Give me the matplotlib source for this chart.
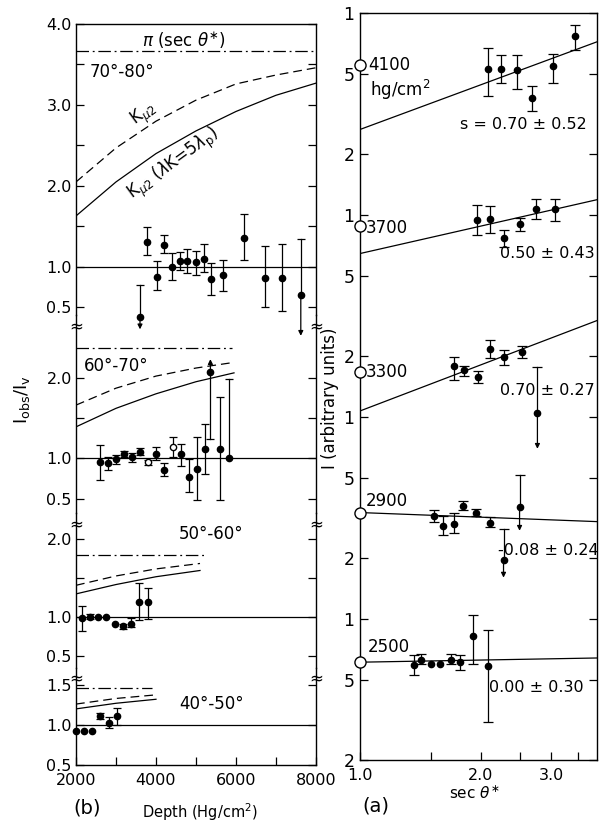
import numpy as np
import matplotlib
matplotlib.use('Agg')
import matplotlib.pyplot as plt

# ---- panel (b): ratio vs depth, four zenith bands ----
depth_ticks = [2000, 3000, 4000, 5000, 6000, 7000, 8000]
depth_tick_labels = ['2000', '', '4000', '', '6000', '', '8000']

# 70-80 deg
d_7080 = [3780, 4015, 4200, 4405, 4595, 4785, 4995, 5190, 5385, 5675, 6210, 6735, 7150]
r_7080 = [1.31, 0.875, 1.27, 1.00, 1.07, 1.07, 1.06, 1.10, 0.85, 0.90, 1.36, 0.87, 0.87]
hi_7080 = [1.49, 1.07, 1.40, 1.17, 1.19, 1.22, 1.20, 1.28, 1.05, 1.08, 1.66, 1.26, 1.28]
lo_7080 = [1.15, 0.72, 1.17, 0.84, 0.96, 0.93, 0.90, 0.94, 0.66, 0.70, 1.09, 0.51, 0.46]
lim_d_7080 = [3600, 7620]
lim_r_7080 = [0.38, 0.66]
lim_cap_7080 = [0.78, 1.35]
lim_end_7080 = [0.23, 0.15]
curve_d_7080 = [2000, 3000, 4000, 5000, 6000, 7000, 8000]
kmu2_7080 = [2.05, 2.47, 2.80, 3.06, 3.26, 3.37, 3.46]
kmu2l_7080 = [1.63, 2.05, 2.40, 2.68, 2.92, 3.12, 3.27]
pi_d_7080 = [2000, 8000]
pi_7080 = [3.67, 3.67]

# 60-70 deg
d_6070 = [2590, 2800, 2990, 3200, 3410, 3610, 3790, 3990, 4200, 4420, 4620, 4830, 5020, 5230, 5610]
r_6070 = [0.96, 0.94, 0.99, 1.05, 1.01, 1.08, 0.95, 1.05, 0.86, 1.14, 1.05, 0.77, 0.87, 1.12, 1.12]
hi_6070 = [1.17, 1.01, 1.04, 1.09, 1.06, 1.13, 0.98, 1.14, 0.94, 1.27, 1.18, 0.99, 1.27, 1.43, 1.76]
lo_6070 = [0.73, 0.85, 0.93, 1.01, 0.95, 1.04, 0.92, 0.98, 0.78, 1.01, 0.91, 0.58, 0.48, 0.81, 0.48]
open_6070 = [3790, 4420]
lim_d_6070 = [5360, 5815]
lim_r_6070 = [2.07, 1.00]
lim_cap_6070 = [1.24, 1.99]
lim_end_6070 = [2.23, None]
curve_d_6070 = [2000, 3000, 4000, 5000, 5950]
kmu2_6070 = [1.66, 1.87, 2.02, 2.12, 2.19]
kmu2l_6070 = [1.39, 1.62, 1.80, 1.95, 2.06]
pi_d_6070 = [2000, 5900]
pi_6070 = [2.365, 2.365]

# 50-60 deg
d_5060 = [2160, 2350, 2545, 2745, 2980, 3170, 3380, 3585, 3790]
r_5060 = [0.99, 1.01, 1.00, 1.00, 0.91, 0.89, 0.92, 1.20, 1.19]
hi_5060 = [1.15, 1.04, 1.00, 1.00, 0.91, 0.92, 0.99, 1.44, 1.38]
lo_5060 = [0.82, 0.98, 1.00, 1.00, 0.91, 0.85, 0.87, 0.96, 0.98]
curve_d_5060 = [2000, 3000, 4000, 5100]
kmu2_5060 = [1.41, 1.53, 1.62, 1.69]
kmu2l_5060 = [1.30, 1.42, 1.52, 1.60]
pi_d_5060 = [2000, 5200]
pi_5060 = [1.80, 1.80]

# 40-50 deg
d_4050 = [2000, 2200, 2410, 2600, 2815, 3020]
r_4050 = [0.93, 0.92, 0.93, 1.11, 1.03, 1.11]
hi_4050 = [0.93, 0.92, 0.93, 1.15, 1.10, 1.21]
lo_4050 = [0.93, 0.92, 0.93, 1.07, 0.96, 1.00]
curve_d_4050 = [2000, 3000, 4000]
kmu2_4050 = [1.26, 1.33, 1.375]
kmu2l_4050 = [1.20, 1.27, 1.32]
pi_d_4050 = [2000, 3900]
pi_4050 = [1.46, 1.46]

yt_7080 = [0.5, 1.0, 1.5, 2.0, 2.5, 3.0, 3.5, 4.0]
ytl_7080 = ['0.5', '1.0', '', '2.0', '', '3.0', '', '4.0']
yt_6070 = [0.5, 1.0, 1.5, 2.0]
ytl_6070 = ['0.5', '1.0', '', '2.0']
yt_5060 = [0.5, 1.0, 1.5, 2.0]
ytl_5060 = ['0.5', '1.0', '', '2.0']
yt_4050 = [0.5, 1.0, 1.5]
ytl_4050 = ['0.5', '1.0', '1.5']

# ---- panel (a): intensity vs sec theta, five depths ----
sec_ticks = [1.0, 1.5, 2.0, 2.5, 3.0, 3.5]
sec_tick_labels = ['1.0', '', '2.0', '', '3.0', '']
int_ticks = [10, 5, 2, 1, 0.5, 0.2, 0.1, 0.05, 0.02, 0.01, 0.005, 0.002]
int_tick_labels = ['1', '5', '2', '1', '5', '2', '1', '5', '2', '1', '5', '2']
fit_sec = [1.0, 3.9]

sec_4100 = [2.08, 2.25, 2.47, 2.69, 3.03, 3.43]
i_4100 = [5.3, 5.3, 5.25, 3.79, 5.47, 7.69]
hi_4100 = [6.7, 6.2, 6.2, 4.35, 6.3, 8.7]
lo_4100 = [3.88, 4.52, 4.22, 3.27, 4.52, 6.55]
fit_4100 = [2.65, 7.2]
vert_4100 = 5.5

sec_3700 = [1.955, 2.11, 2.28, 2.50, 2.75, 3.07]
i_3700 = [0.944, 0.95, 0.77, 0.905, 1.07, 1.07]
hi_3700 = [1.12, 1.11, 0.84, 0.97, 1.20, 1.20]
lo_3700 = [0.80, 0.81, 0.695, 0.83, 0.95, 0.93]
fit_3700 = [0.644, 1.19]
vert_3700 = 0.88

sec_3300 = [1.72, 1.82, 1.97, 2.11, 2.29, 2.53]
i_3300 = [0.179, 0.171, 0.158, 0.217, 0.197, 0.209]
hi_3300 = [0.197, 0.179, 0.169, 0.239, 0.215, 0.225]
lo_3300 = [0.153, 0.159, 0.147, 0.195, 0.181, 0.195]
fit_3300 = [0.107, 0.30]
vert_3300 = 0.166
lim_sec_3300 = [2.77]
lim_i_3300 = [0.104]
lim_cap_3300 = [0.177]
lim_end_3300 = [0.0695]

sec_2900 = [1.53, 1.61, 1.72, 1.81, 1.95, 2.11]
i_2900 = [0.0324, 0.0289, 0.0294, 0.0363, 0.0336, 0.0298]
hi_2900 = [0.0344, 0.0324, 0.0333, 0.0385, 0.0350, 0.0318]
lo_2900 = [0.0303, 0.0260, 0.0266, 0.0346, 0.0324, 0.0286]
fit_2900 = [0.0336, 0.0303]
vert_2900 = 0.0336
lim_sec_2900 = [2.50, 2.28]
lim_i_2900 = [0.036, 0.0196]
lim_cap_2900 = [0.0513, 0.0278]
lim_end_2900 = [0.0273, 0.016]

sec_2500 = [1.36, 1.42, 1.50, 1.585, 1.69, 1.78, 1.91, 2.08]
i_2500 = [0.00593, 0.00628, 0.0060, 0.0060, 0.00628, 0.0061, 0.0082, 0.00586]
hi_2500 = [0.00665, 0.0067, 0.0060, 0.0060, 0.00673, 0.0066, 0.0105, 0.0088]
lo_2500 = [0.00528, 0.0060, 0.0060, 0.0060, 0.0060, 0.00556, 0.0060, 0.0031]
fit_2500 = [0.0061, 0.0064]
vert_2500 = 0.0061

plt.rcParams['font.family'] = ['DejaVu Sans']
plt.rcParams['mathtext.fontset'] = 'dejavusans'

W, H = 600, 825
LW = 0.9


def box(x0, y0, x1, y1):
    # pixel box (top-left origin) -> figure fraction
    return [x0 / W, 1 - y1 / H, (x1 - x0) / W, (y1 - y0) / H]


def points(ax, x, y, hi, lo, cap=3, ms=4.5, open_x=()):
    x, y, hi, lo = map(np.asarray, (x, y, hi, lo))
    has_err = (hi - lo) > 0
    ax.errorbar(x[has_err], y[has_err], yerr=[y[has_err] - lo[has_err], hi[has_err] - y[has_err]],
                fmt='none', ecolor='k', elinewidth=LW, capsize=cap, capthick=LW, clip_on=False)
    is_open = np.isin(x, open_x)
    ax.plot(x[~is_open], y[~is_open], 'o', color='k', ms=ms, clip_on=False, zorder=3)
    ax.plot(x[is_open], y[is_open], 'o', mfc='white', mec='k', mew=1.0, ms=ms, clip_on=False, zorder=3)


def limits(ax, x, y, caps, ends, ms=4.5, cap_ms=6):
    for xi, yi, ci, ei in zip(x, y, caps, ends):
        ax.plot([xi, xi], [ci, yi], color='k', lw=LW, clip_on=False)
        ax.plot([xi], [ci], marker='_', ms=cap_ms, mew=LW, color='k', clip_on=False)
        if ei is not None:
            ax.annotate('', xy=(xi, ei), xytext=(xi, yi), annotation_clip=False,
                        arrowprops=dict(arrowstyle='-|>', color='k', lw=LW,
                                        mutation_scale=7, shrinkA=0, shrinkB=0))
        ax.plot([xi], [yi], 'o', color='k', ms=ms, clip_on=False, zorder=3)


fig = plt.figure(figsize=(6, 8.25), dpi=100)

rows = [(24, 315), (315, 513), (513, 668), (668, 765)]
ylims = [(0.407, 4.0), (0.321, 2.778), (0.35, 2.337), (0.5, 1.71)]
yticks = [(yt_7080, ytl_7080), (yt_6070, ytl_6070), (yt_5060, ytl_5060), (yt_4050, ytl_4050)]
curves = [(curve_d_7080, kmu2_7080, kmu2l_7080, pi_d_7080, pi_7080),
          (curve_d_6070, kmu2_6070, kmu2l_6070, pi_d_6070, pi_6070),
          (curve_d_5060, kmu2_5060, kmu2l_5060, pi_d_5060, pi_5060),
          (curve_d_4050, kmu2_4050, kmu2l_4050, pi_d_4050, pi_4050)]
data = [(d_7080, r_7080, hi_7080, lo_7080), (d_6070, r_6070, hi_6070, lo_6070),
        (d_5060, r_5060, hi_5060, lo_5060), (d_4050, r_4050, hi_4050, lo_4050)]

axes_b = []
for i in range(4):
    ax = fig.add_axes(box(76, rows[i][0], 316, rows[i][1]))
    ax.set_xlim(2000, 8000)
    ax.set_ylim(*ylims[i])
    ax.set_yticks(yticks[i][0])
    ax.set_yticklabels(yticks[i][1])
    ax.tick_params(axis='y', which='both', direction='in', left=True, right=True,
                   length=6, width=0.9, labelsize=11.5, pad=3)
    if i == 3:
        ax.set_xticks(depth_ticks)
        ax.set_xticklabels(depth_tick_labels)
        ax.tick_params(axis='x', direction='in', length=6, width=0.9, labelsize=11.5, pad=6)
    else:
        ax.set_xticks([])
        ax.spines['bottom'].set_visible(False)
    if i > 0:
        ax.spines['top'].set_visible(False)
    for s in ax.spines.values():
        s.set_linewidth(1.0)
    ax.patch.set_alpha(0)

    ax.axhline(1.0, color='k', lw=LW)
    cd, k2, k2l, pd, pv = curves[i]
    ax.plot(cd, k2, color='k', lw=LW, dashes=(7, 4))
    ax.plot(cd, k2l, color='k', lw=LW)
    ax.plot(pd, pv, color='k', lw=LW, dashes=(10, 3, 1.5, 3))
    d, r, hi, lo = data[i]
    points(ax, d, r, hi, lo, open_x=open_6070 if i == 1 else ())
    axes_b.append(ax)

limits(axes_b[0], lim_d_7080, lim_r_7080, lim_cap_7080, lim_end_7080)
limits(axes_b[1], lim_d_6070, lim_r_6070, lim_cap_6070, lim_end_6070)

# axis breaks
for ax in axes_b[:3]:
    for xb in (0, 1):
        ax.text(xb, -0.01, '\u2248', transform=ax.transAxes, ha='center', va='top',
                fontsize=12, zorder=5, bbox=dict(fc='white', ec='none', pad=0))

a1 = axes_b[0]
a1.text(4700, 3.80, r'$\pi$ (sec $\theta^{\ast}$)', ha='center', va='center', fontsize=12)
a1.text(2350, 3.41, '70\u00b0-80\u00b0', ha='left', va='center', fontsize=12)
a1.text(3700, 2.88, r'K$_{\mu2}$', ha='center', va='center', fontsize=12, rotation=36)
a1.text(4450, 2.27, r'K$_{\mu2}$ ($\lambda$K=5$\lambda_{\rm p}$)', ha='center', va='center',
        fontsize=12, rotation=36)
axes_b[1].text(2200, 2.15, '60\u00b0-70\u00b0', ha='left', va='center', fontsize=12)
axes_b[2].text(4575, 2.07, '50\u00b0-60\u00b0', ha='left', va='center', fontsize=12)
axes_b[3].text(4575, 1.26, '40\u00b0-50\u00b0', ha='left', va='center', fontsize=12)

fig.text(22 / W, 1 - 400 / H, r'I$_{\rm obs}$/I$_{\rm v}$', rotation=90, ha='center',
         va='center', fontsize=13)
fig.text(87 / W, 1 - 808 / H, '(b)', ha='center', va='center', fontsize=14)
fig.text(200 / W, 1 - 812 / H, r'Depth (Hg/cm$^2$)', ha='center', va='center', fontsize=10.5)

# ---- panel (a) ----
ax = fig.add_axes(box(360, 13, 597, 760))
ax.set_xscale('log')
ax.set_yscale('log')
ax.set_xlim(1.0, 3.9)
ax.set_ylim(0.002, 10)
ax.set_xticks(sec_ticks)
ax.set_xticklabels(sec_tick_labels)
ax.set_yticks(int_ticks)
ax.set_yticklabels(int_tick_labels)
ax.minorticks_off()
ax.tick_params(axis='y', direction='in', left=True, right=True, length=6, width=0.9,
               labelsize=12.5, pad=4)
ax.tick_params(axis='x', direction='in', length=6, width=0.9, labelsize=11.5, pad=6)
for s in ax.spines.values():
    s.set_linewidth(1.0)

groups = [(sec_4100, i_4100, hi_4100, lo_4100, fit_4100, vert_4100),
          (sec_3700, i_3700, hi_3700, lo_3700, fit_3700, vert_3700),
          (sec_3300, i_3300, hi_3300, lo_3300, fit_3300, vert_3300),
          (sec_2900, i_2900, hi_2900, lo_2900, fit_2900, vert_2900),
          (sec_2500, i_2500, hi_2500, lo_2500, fit_2500, vert_2500)]
for sx, iy, hi, lo, fit, vert in groups:
    ax.plot(fit_sec, fit, color='k', lw=LW)
    points(ax, sx, iy, hi, lo, cap=3.5)
    ax.plot([1.0], [vert], 'o', mfc='white', mec='k', mew=1.0, ms=8, clip_on=False, zorder=4)

limits(ax, lim_sec_3300, lim_i_3300, lim_cap_3300, lim_end_3300, cap_ms=7)
limits(ax, lim_sec_2900, lim_i_2900, lim_cap_2900, lim_end_2900, cap_ms=7)

lab = dict(ha='left', va='center', fontsize=12)
ax.text(1.047, 5.55, '4100', **lab)
ax.text(1.059, 4.15, r'hg/cm$^2$', **lab)
ax.text(1.035, 0.861, '3700', **lab)
ax.text(1.035, 0.1675, '3300', **lab)
ax.text(1.035, 0.0382, '2900', **lab)
ax.text(1.047, 0.00726, '2500', **lab)
fit_lab = dict(ha='center', va='center', fontsize=11.5)
ax.text(2.55, 2.80, 's = 0.70 \u00b1 0.52', **fit_lab)
ax.text(2.94, 0.647, '0.50 \u00b1 0.43', **fit_lab)
ax.text(2.94, 0.1345, '0.70 \u00b1 0.27', **fit_lab)
ax.text(2.95, 0.0218, '-0.08 \u00b1 0.24', **fit_lab)
ax.text(2.76, 0.00459, '0.00 \u00b1 0.30', **fit_lab)

fig.text(330 / W, 1 - 398 / H, 'I (arbitrary units)', rotation=90, ha='center',
         va='center', fontsize=12)
fig.text(474 / W, 1 - 793 / H, r'sec $\theta^{\ast}$', ha='center', va='center', fontsize=11)
fig.text(376 / W, 1 - 806 / H, '(a)', ha='center', va='center', fontsize=14)

fig.savefig('out.png', dpi=100, facecolor='white')
